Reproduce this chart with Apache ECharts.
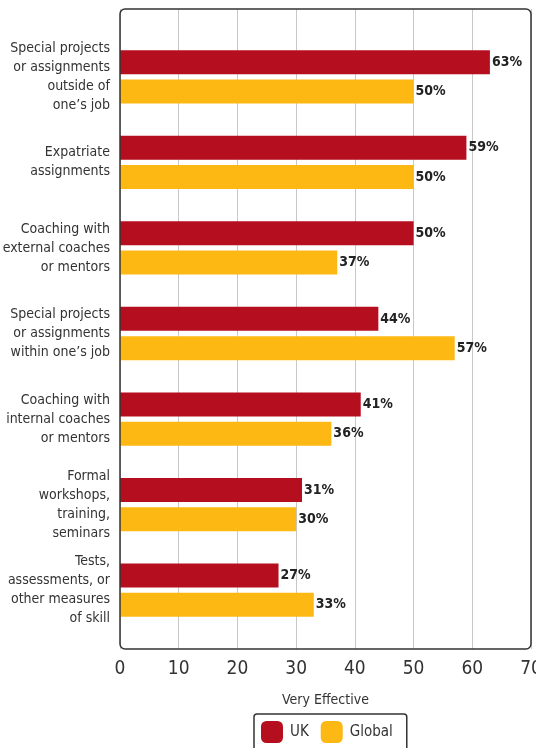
<!DOCTYPE html>
<html>
<head>
<meta charset="utf-8">
<script src="https://cdn.jsdelivr.net/npm/echarts@6/dist/echarts.min.js"></script>
<style>
  html, body { margin: 0; padding: 0; background: #fff; }
  #chart { width: 536px; height: 748px; }
</style>
</head>
<body>
<div id="chart"></div>
<script>
// Development activities rated "very effective" (%)
var categories = [
  "Special projects\nor assignments\noutside of\none\u2019s job",
  "Expatriate\nassignments",
  "Coaching with\nexternal coaches\nor mentors",
  "Special projects\nor assignments\nwithin one\u2019s job",
  "Coaching with\ninternal coaches\nor mentors",
  "Formal\nworkshops,\ntraining,\nseminars",
  "Tests,\nassessments, or\nother measures\nof skill"
];
var ukValues = [63, 59, 50, 44, 41, 31, 27];
var globalValues = [50, 50, 37, 57, 36, 30, 33];
var xTicks = [0, 10, 20, 30, 40, 50, 60, 70];

var FONT = '"Liberation Sans Narrow", "DejaVu Sans Condensed", "Liberation Sans", sans-serif';
var RED = '#B50E1E';
var YELLOW = '#FDB813';

var chart = echarts.init(document.getElementById('chart'));

var valueLabel = {
  show: true,
  position: 'right',
  distance: 2,
  formatter: '{c}%',
  fontFamily: FONT,
  fontWeight: 'bold',
  fontSize: 14,
  color: '#222'
};

chart.setOption({
  animation: false,
  textStyle: { fontFamily: FONT },
  grid: [
    { left: 120, right: 5, top: 9, bottom: 99, outerBoundsMode: 'none', containLabel: false },
    { left: 120, right: 5, top: 34, bottom: 115, outerBoundsMode: 'none', containLabel: false }
  ],
  xAxis: [
    {
      gridIndex: 0,
      type: 'value',
      min: xTicks[0],
      max: xTicks[xTicks.length - 1],
      interval: 10,
      name: 'Very Effective',
      nameLocation: 'middle',
      nameGap: 44,
      nameTextStyle: { fontFamily: FONT, fontSize: 14, color: '#333' },
      axisLine: { show: false },
      axisTick: { show: false },
      axisLabel: { fontFamily: FONT, fontSize: 19, color: '#333', margin: 11 },
      splitLine: { show: true, lineStyle: { color: '#c8c8c8', width: 1 } }
    },
    {
      gridIndex: 1,
      type: 'value',
      min: xTicks[0],
      max: xTicks[xTicks.length - 1],
      show: false
    }
  ],
  yAxis: [
    {
      gridIndex: 0,
      type: 'value',
      show: false
    },
    {
      gridIndex: 1,
      type: 'category',
      inverse: true,
      data: categories,
      axisLine: { show: false },
      axisTick: { show: false },
      axisLabel: {
        fontFamily: FONT,
        fontSize: 14,
        lineHeight: 19,
        color: '#333',
        align: 'right',
        margin: 10
      }
    }
  ],
  legend: {
    data: ['UK', 'Global'],
    left: 254,
    top: 714,
    orient: 'horizontal',
    icon: 'roundRect',
    itemWidth: 22,
    itemHeight: 22,
    itemGap: 12,
    padding: [7, 14, 10, 7],
    borderColor: '#333',
    borderWidth: 1.5,
    borderRadius: 3,
    textStyle: { fontFamily: FONT, fontSize: 15, color: '#333', padding: [0, 0, 0, 2] }
  },
  graphic: [
    {
      type: 'rect',
      shape: { x: 120, y: 9, width: 411, height: 640, r: 5 },
      style: { fill: 'none', stroke: '#333', lineWidth: 1.5 },
      z: 10
    }
  ],
  series: [
    {
      name: 'UK',
      type: 'bar',
      xAxisIndex: 1,
      yAxisIndex: 1,
      data: ukValues,
      barWidth: 24,
      barGap: '22%',
      itemStyle: { color: RED },
      label: valueLabel
    },
    {
      name: 'Global',
      type: 'bar',
      xAxisIndex: 1,
      yAxisIndex: 1,
      data: globalValues,
      barWidth: 24,
      barGap: '22%',
      itemStyle: { color: YELLOW },
      label: valueLabel
    }
  ]
});
</script>
</body>
</html>
